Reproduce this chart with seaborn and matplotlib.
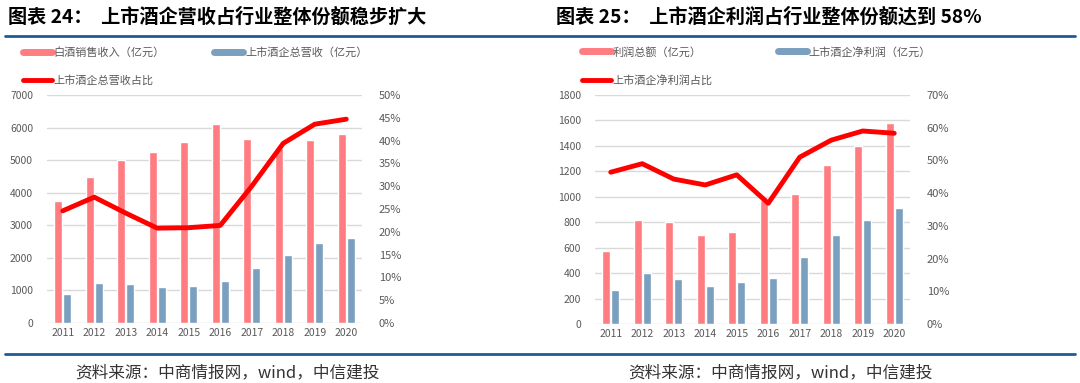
import numpy as np
import pandas as pd
import seaborn as sns
import matplotlib.pyplot as plt
from matplotlib.lines import Line2D
from matplotlib.ticker import PercentFormatter

sns.set_style("white")
plt.rcParams['font.family'] = ['Noto Sans CJK SC', 'DejaVu Sans']

years = ['2011', '2012', '2013', '2014', '2015', '2016', '2017', '2018', '2019', '2020']

# 图表24
baijiu_rev = [3750, 4470, 5000, 5250, 5560, 6100, 5650, 5360, 5620, 5800]
listed_rev = [900, 1220, 1190, 1090, 1150, 1300, 1700, 2100, 2450, 2600]
rev_share = [24.6, 27.6, 24.1, 20.8, 20.9, 21.4, 30.0, 39.4, 43.6, 44.7]

# 图表25
total_profit = [570, 815, 800, 700, 725, 975, 1025, 1250, 1400, 1580]
listed_profit = [265, 400, 355, 300, 330, 365, 525, 700, 820, 915]
profit_share = [46.4, 49.0, 44.3, 42.5, 45.6, 36.9, 51.0, 56.2, 59.0, 58.3]

PINK = '#FF7C80'
BLUE = '#7A9FBF'
RED = '#FF0000'
GRAY = '#595959'
NAVY = '#1F5A96'

W, H = 1080, 383
fig = plt.figure(figsize=(W / 100, H / 100), dpi=100)


def panel(x0, x1, y_top, y_bot, bars1, bars2, share, names, ymax, ystep, pmax, pstep,
          colspace, legx):
    ax = fig.add_axes([x0 / W, 1 - y_bot / H, (x1 - x0) / W, (y_bot - y_top) / H])
    df = pd.DataFrame({'year': years * 2,
                       'val': bars1 + bars2,
                       'kind': [names[0]] * 10 + [names[1]] * 10})
    sns.barplot(data=df, x='year', y='val', hue='kind', palette=[PINK, BLUE],
                width=0.56, gap=0.12, ax=ax, legend=False, saturation=1)
    ax.set_ylim(0, ymax)
    ax.set_yticks(np.arange(0, ymax + 1, ystep))
    ax.set_xlim(-0.5, 9.5)
    ax.grid(axis='y', color='#D9D9D9', linewidth=1)
    ax.set_axisbelow(True)
    ax.set_xlabel('')
    ax.set_ylabel('')
    ax.tick_params(axis='both', length=0, colors=GRAY, labelsize=7.5)
    ax.tick_params(axis='y', pad=10)
    for s in ax.spines.values():
        s.set_visible(False)

    ax2 = ax.twinx()
    sns.lineplot(x=years, y=share, color=RED, linewidth=3.5, ax=ax2, sort=False)
    ax2.set_ylim(0, pmax)
    ax2.set_yticks(np.arange(0, pmax + 0.1, pstep))
    ax2.yaxis.set_major_formatter(PercentFormatter(decimals=0))
    ax2.set_ylabel('')
    ax2.tick_params(axis='y', length=0, colors=GRAY, labelsize=8, pad=12)
    for s in ax2.spines.values():
        s.set_visible(False)

    handles = [Line2D([], [], color=PINK, linewidth=5),
               Line2D([], [], color=RED, linewidth=3.5),
               Line2D([], [], color=BLUE, linewidth=5)]
    labels = [names[0], names[2], names[1]]
    ax.legend(handles, labels, ncol=2, frameon=False, loc='lower left',
              bbox_to_anchor=(legx, 1.015), fontsize=8, labelcolor=GRAY,
              handlelength=2.6, handletextpad=0.15, columnspacing=colspace,
              labelspacing=1.6, borderaxespad=0.1)
    return ax


panel(47, 362, 95, 323, baijiu_rev, listed_rev, rev_share,
      ['白酒销售收入（亿元）', '上市酒企总营收（亿元）', '上市酒企总营收占比'],
      7000, 1000, 50, 5, 4.5, -0.095)
panel(595, 910, 95, 324, total_profit, listed_profit, profit_share,
      ['利润总额（亿元）', '上市酒企净利润（亿元）', '上市酒企净利润占比'],
      1800, 200, 70, 10, 5.9, -0.06)

# titles
fig.text(8 / W, 1 - 17 / H, '图表 24：  上市酒企营收占行业整体份额稳步扩大',
         fontsize=13.8, fontweight='bold', va='center', ha='left', color='black')
fig.text(556 / W, 1 - 17 / H, '图表 25：  上市酒企利润占行业整体份额达到 58%',
         fontsize=13.8, fontweight='bold', va='center', ha='left', color='black')

# rules
fig.add_artist(Line2D([5 / W, 1075 / W], [1 - 36 / H, 1 - 36 / H], color=NAVY, linewidth=2))
fig.add_artist(Line2D([5 / W, 1075 / W], [1 - 354 / H, 1 - 354 / H], color=NAVY, linewidth=2))

# sources
fig.text(75 / W, 1 - 373 / H, '资料来源：中商情报网，wind，中信建投',
         fontsize=12, style='italic', va='center', ha='left', color='#333333')
fig.text(628 / W, 1 - 373 / H, '资料来源：中商情报网，wind，中信建投',
         fontsize=12, style='italic', va='center', ha='left', color='#333333')

fig.savefig('out.png', dpi=100)
